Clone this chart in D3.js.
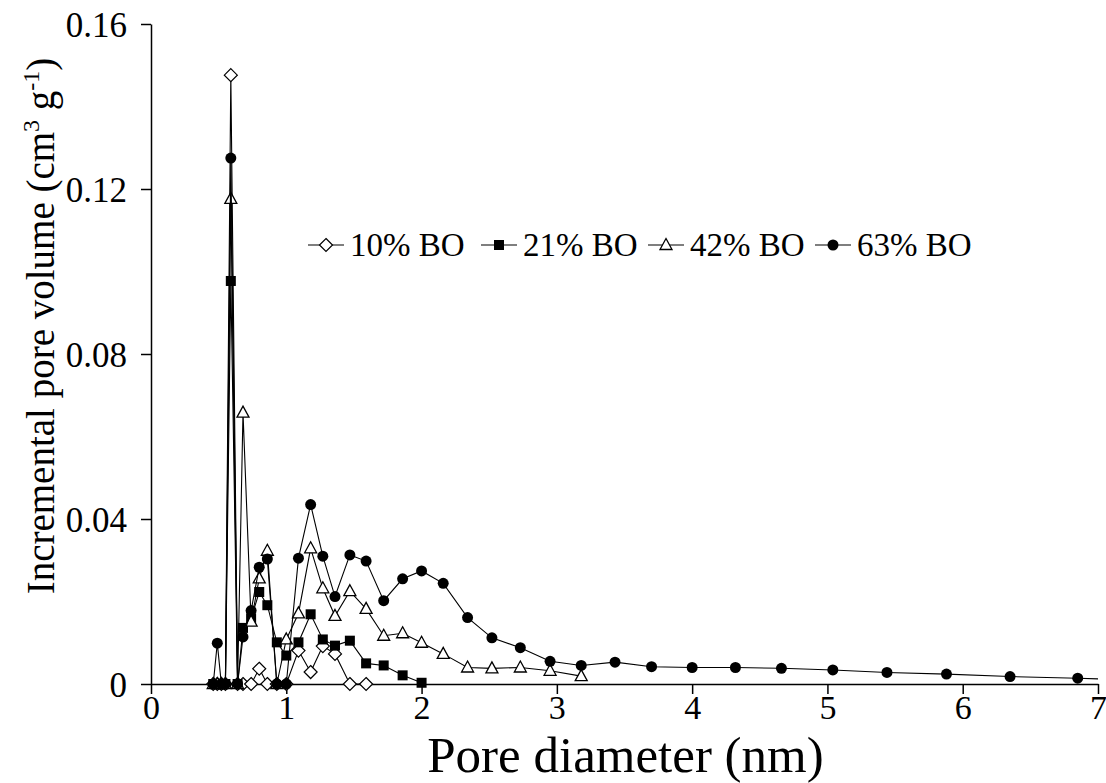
<!DOCTYPE html>
<html>
<head>
<meta charset="utf-8">
<script src="https://cdn.jsdelivr.net/npm/d3@7"></script>
<style>
  body { margin: 0; background: #fff; }
  text { font-family: "Liberation Serif", "Times New Roman", serif; fill: #000; }
</style>
</head>
<body>
<svg id="chart" width="1106" height="783"></svg>
<script>
// Pore widths (nm) shared by the series
var poreDiameter = [0.46, 0.49, 0.52, 0.55, 0.59, 0.64, 0.68, 0.74, 0.80, 0.86, 0.93, 1.00,
    1.09, 1.18, 1.27, 1.36, 1.47, 1.59, 1.72, 1.86, 2.00, 2.16, 2.34, 2.52, 2.73, 2.95,
    3.18, 3.43, 3.70, 4.00, 4.32, 4.66, 5.04, 5.44, 5.88, 6.35, 6.85, 7.40];

// Incremental pore volume (cm3/g) per series
var bo10 = [0, 0, 0, 0, 0.1476, 0, 0, 0, 0.0037, 0, 0, 0,
    0.0081, 0.0029, 0.0092, 0.0073, 0, 0];
var bo21 = [0, 0, 0, 0, 0.0977, 0, 0.0136, 0.0159, 0.0223, 0.0191, 0.0101, 0.0069,
    0.0101, 0.0169, 0.0108, 0.0093, 0.0105, 0.0050, 0.0045, 0.0021, 0.0003];
var bo42 = [0, 0, 0, 0, 0.1176, 0, 0.0658, 0.0151, 0.0256, 0.0323, 0, 0.0108,
    0.0171, 0.0329, 0.0232, 0.0165, 0.0225, 0.0182, 0.0117, 0.0123, 0.0100, 0.0073,
    0.0040, 0.0038, 0.0040, 0.0032, 0.0019];
var bo63 = [0, 0.0099, 0, 0, 0.1275, 0, 0.0114, 0.0178, 0.0283, 0.0303, 0, 0,
    0.0305, 0.0435, 0.0310, 0.0212, 0.0313, 0.0298, 0.0202, 0.0255, 0.0274, 0.0244,
    0.0161, 0.0112, 0.0088, 0.0055, 0.0045, 0.0053, 0.0042, 0.0040, 0.0040, 0.0038,
    0.0034, 0.0028, 0.0024, 0.0018, 0.0014, 0.0008];

var seriesNames = ["10% BO", "21% BO", "42% BO", "63% BO"];
var seriesValues = [bo10, bo21, bo42, bo63];
var markerTypes = ["diamond", "square", "triangle", "circle"];

var xTicks = [0, 1, 2, 3, 4, 5, 6, 7];
var yTicks = [0, 0.04, 0.08, 0.12, 0.16];

var svg = d3.select("#chart");
var plotLeft = 151, plotRight = 1098, plotTop = 24, plotBottom = 684;

var xScale = d3.scaleLinear().domain([0, 7]).range([plotLeft, plotRight]);
var yScale = d3.scaleLinear().domain([0, 0.16]).range([plotBottom, plotTop]);

svg.append("clipPath").attr("id", "plot-clip")
    .append("rect")
    .attr("x", plotLeft - 10).attr("y", 0)
    .attr("width", plotRight - plotLeft + 10).attr("height", plotBottom + 10);

// Axes
var xAxis = svg.append("g")
    .attr("transform", "translate(0," + plotBottom + ")")
    .call(d3.axisBottom(xScale).tickValues(xTicks).tickSize(10).tickSizeOuter(0).tickFormat(d3.format("d")));
xAxis.selectAll("text").attr("font-size", 34).attr("y", 11).attr("dy", "0.71em");

var yAxis = svg.append("g")
    .attr("transform", "translate(" + plotLeft + ",0)")
    .call(d3.axisLeft(yScale).tickValues(yTicks).tickSize(10).tickSizeOuter(0)
        .tickFormat(function (d) { return d === 0 ? "0" : d.toFixed(2); }));
yAxis.selectAll("text").attr("font-size", 35).attr("x", -24).attr("dy", "0.35em");

svg.selectAll(".domain, .tick line").attr("stroke", "#000").attr("stroke-width", 1.5);
svg.selectAll(".tick text").style("font-family", "'Liberation Serif', 'Times New Roman', serif").attr("fill", "#000");

// Axis titles
svg.append("text")
    .attr("x", (plotLeft + plotRight) / 2 + 1)
    .attr("y", 772)
    .attr("text-anchor", "middle")
    .attr("font-size", 51)
    .text("Pore diameter (nm)");

var yTitle = svg.append("text")
    .attr("transform", "translate(54," + 326 + ") rotate(-90)")
    .attr("text-anchor", "middle")
    .attr("font-size", 39);
yTitle.append("tspan").text("Incremental pore volume (cm");
yTitle.append("tspan").attr("font-size", 24).attr("dy", -15).text("3");
yTitle.append("tspan").attr("dy", 15).text(" g");
yTitle.append("tspan").attr("font-size", 24).attr("dy", -15).text("-1");
yTitle.append("tspan").attr("dy", 15).text(")");

// Marker drawing
function drawMarker(sel, type) {
    if (type === "circle") {
        sel.append("circle").attr("r", 5.5).attr("fill", "#000").attr("stroke", "none");
    } else if (type === "square") {
        sel.append("rect").attr("x", -5).attr("y", -5).attr("width", 10).attr("height", 10)
            .attr("fill", "#000").attr("stroke", "none");
    } else if (type === "triangle") {
        sel.append("path").attr("d", "M0,-6.5L6,4.5L-6,4.5Z")
            .attr("fill", "#fff").attr("stroke", "#000").attr("stroke-width", 1.3);
    } else {
        sel.append("path").attr("d", "M0,-6.5L6.5,0L0,6.5L-6.5,0Z")
            .attr("fill", "#fff").attr("stroke", "#000").attr("stroke-width", 1.2);
    }
}

var line = d3.line()
    .x(function (d) { return xScale(d.x); })
    .y(function (d) { return yScale(d.y); });

var plot = svg.append("g").attr("clip-path", "url(#plot-clip)");

seriesValues.forEach(function (vals, i) {
    var pts = vals.map(function (v, j) { return { x: poreDiameter[j], y: v }; });
    plot.append("path")
        .datum(pts)
        .attr("d", line)
        .attr("fill", "none")
        .attr("stroke", "#000")
        .attr("stroke-width", 1.1);
    plot.selectAll(".m" + i)
        .data(pts.filter(function (d) { return d.x <= 7; }))
        .enter()
        .append("g")
        .attr("class", "m" + i)
        .attr("transform", function (d) { return "translate(" + xScale(d.x) + "," + yScale(d.y) + ")"; })
        .each(function () { drawMarker(d3.select(this), markerTypes[i]); });
});

// Legend
var legendX = [308, 481, 648, 815];
var legendY = 245;
seriesNames.forEach(function (name, i) {
    var g = svg.append("g").attr("transform", "translate(" + legendX[i] + "," + legendY + ")");
    g.append("line").attr("x1", 0).attr("x2", 36).attr("y1", 0).attr("y2", 0)
        .attr("stroke", "#000").attr("stroke-width", 1.1);
    var m = g.append("g").attr("transform", "translate(18,0)");
    drawMarker(m, markerTypes[i]);
    g.append("text").attr("x", 42).attr("y", 11).attr("font-size", 33).text(name);
});
</script>
</body>
</html>
